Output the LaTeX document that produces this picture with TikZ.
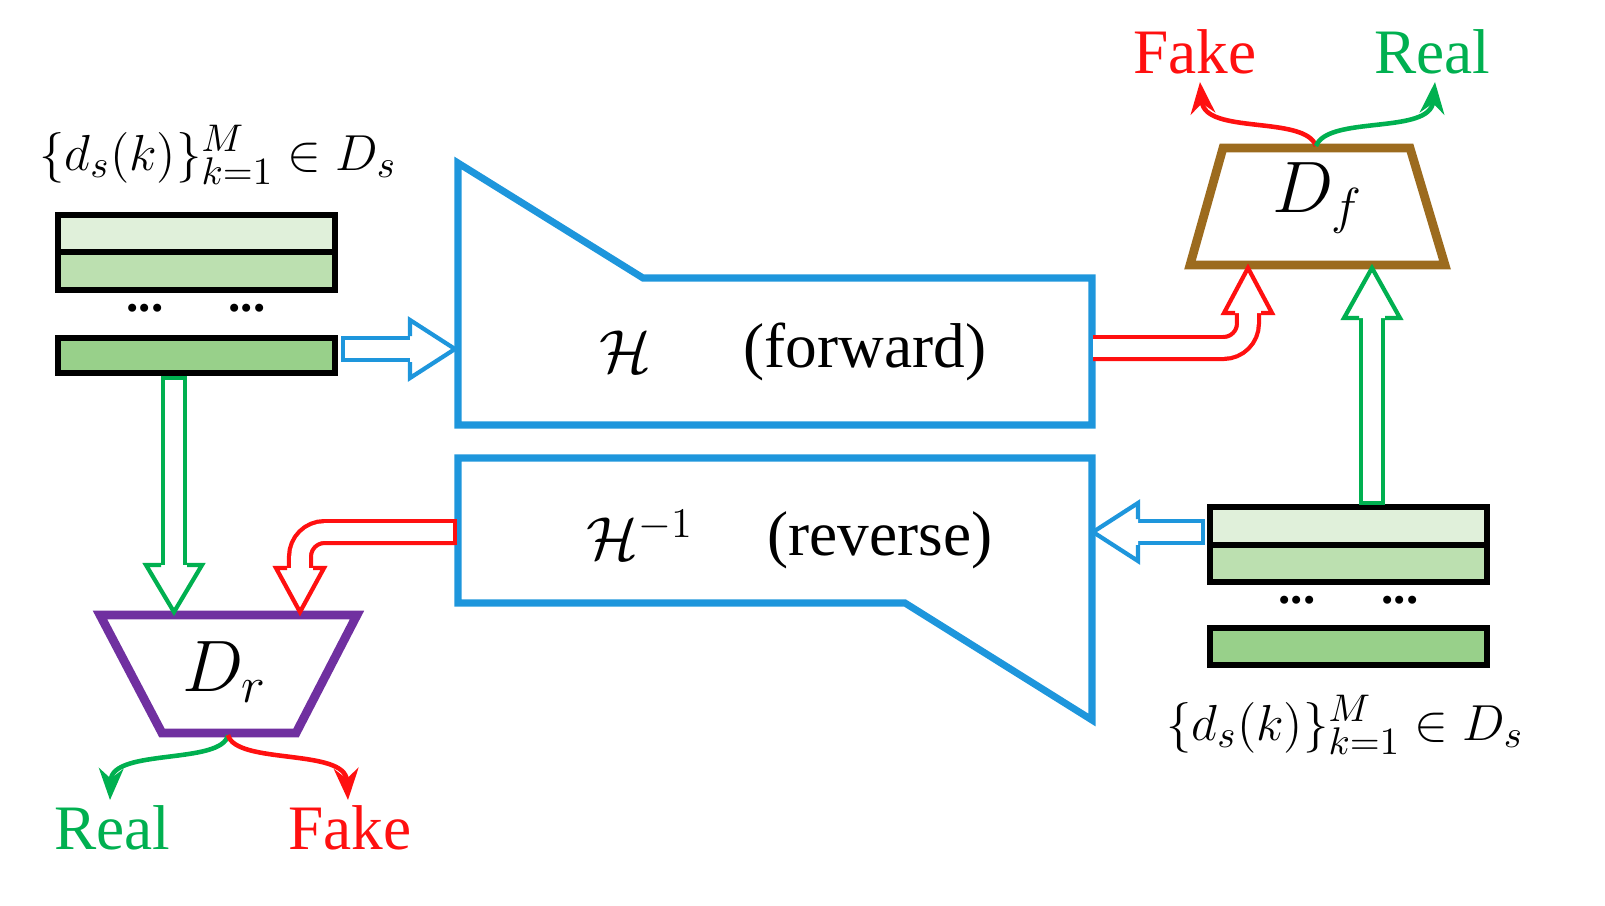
\documentclass[tikz,border=0pt]{standalone}
\usepackage{fontspec}
\setmainfont{Liberation Serif}
\usetikzlibrary{arrows.meta}
\definecolor{bl}{HTML}{1E96DC}
\definecolor{gr}{HTML}{00B050}
\definecolor{rd}{HTML}{FF1010}
\definecolor{br}{HTML}{9C6B1E}
\definecolor{pu}{HTML}{7030A0}
\definecolor{g1}{HTML}{E0F0DA}
\definecolor{g2}{HTML}{BCE0B0}
\definecolor{g3}{HTML}{98D08A}
\begin{document}
\begin{tikzpicture}[x=0.01cm,y=-0.01cm,
  hol/.style={line width=1.2pt,double=white,double distance=5pt},
  head/.style={line width=1.2pt,fill=white,line join=miter},
  bar/.style={draw=black,line width=1.5pt},
  net/.style={draw=bl,line width=2pt},
  thin/.style={line width=1.3pt,-{Stealth[length=9pt,width=7pt]}},
  big/.style={font=\fontsize{18}{20}\selectfont},
  lab/.style={font=\fontsize{15}{18}\selectfont},
  dots/.style={font=\fontsize{14}{14}\selectfont\bfseries},
  outtxt/.style={font=\fontsize{18}{20}\selectfont}]
\useasboundingbox (0,0) rectangle (1605,905);
% left bars
\node[lab] (lt) at (218,155) {$\{d_s(k)\}_{k=1}^{M}\in D_s$};
\path[bar,fill=g1] (58,215) rectangle (335,252);
\path[bar,fill=g2] (58,252) rectangle (335,290);
\path[bar,fill=g3] (58,338) rectangle (335,373);
\node[dots] (d1) at (145,308) {...};
\node[dots] (d2) at (247,308) {...};
% right bars
\path[bar,fill=g1] (1210,507) rectangle (1487,545);
\path[bar,fill=g2] (1210,545) rectangle (1487,582);
\path[bar,fill=g3] (1210,628) rectangle (1487,665);
\node[dots] (d3) at (1297,600) {...};
\node[dots] (d4) at (1400,600) {...};
\node[lab] (rt) at (1345,725) {$\{d_s(k)\}_{k=1}^{M}\in D_s$};
% networks
\draw[net,line join=miter] (458,163) -- (643,278) -- (1092,278) -- (1092,425) -- (458,425) -- cycle;
\node[big] (hf) at (625,352) {$\mathcal{H}$};
\node[big] (hft) at (865,352) {(forward)};
\draw[net,line join=miter] (458,458) -- (1092,458) -- (1092,720) -- (905,603) -- (458,603) -- cycle;
\node[big] (hr) at (640,535) {$\mathcal{H}^{-1}$};
\node[big] (hrt) at (880,540) {(reverse)};
% discriminators
\draw[br,line width=2.5pt,line join=miter] (1223,148) -- (1410,148) -- (1445,265) -- (1190,265) -- cycle;
\node[font=\fontsize{22}{24}\selectfont] (df) at (1318,198) {$D_f$};
\draw[pu,line width=2.5pt,line join=miter] (100,615) -- (357,615) -- (296,733) -- (162,733) -- cycle;
\node[font=\fontsize{22}{24}\selectfont] (dr) at (225,672) {$D_r$};
% blue forward
\draw[bl,hol] (343,349) -- (410,349);
\draw[bl,line width=1.2pt] (343,336) -- (343,362);
\draw[bl,head] (410,336) -- (410,320) -- (455,349) -- (410,378) -- (410,362);
% blue reverse
\draw[bl,hol] (1203,532) -- (1138,532);
\draw[bl,line width=1.2pt] (1203,519) -- (1203,545);
\draw[bl,head] (1138,519) -- (1138,503) -- (1093,532) -- (1138,561) -- (1138,545);
% green up
\draw[gr,hol] (1372,503) -- (1372,318);
\draw[gr,line width=1.2pt] (1359,503) -- (1385,503);
\draw[gr,head] (1359,318) -- (1344,318) -- (1372,268) -- (1400,318) -- (1385,318);
% green down
\draw[gr,hol] (174,378) -- (174,565);
\draw[gr,line width=1.2pt] (161,378) -- (187,378);
\draw[gr,head] (161,565) -- (146,565) -- (174,612) -- (202,565) -- (187,565);
% red forward
\draw[rd,hol,rounded corners=7pt] (1093,348) -| (1248,313);
\draw[rd,head] (1235,313) -- (1224,313) -- (1248,268) -- (1272,313) -- (1261,313);
% red reverse
\draw[rd,hol,rounded corners=7pt] (455,532) -| (300,568);
\draw[rd,line width=1.2pt] (455,519) -- (455,545);
\draw[rd,head] (287,568) -- (276,568) -- (300,612) -- (324,568) -- (313,568);
% outputs top
\node[outtxt,text=rd] (f1) at (1195,52) {Fake};
\node[outtxt,text=gr] (r1) at (1432,52) {Real};
\coordinate (ft) at (1316,146);
\draw[thin,rd] (ft) .. controls (1305,115) and (1205,135) .. (1200,82);
\draw[thin,gr] (ft) .. controls (1328,115) and (1430,135) .. (1435,82);
% outputs bottom
\node[outtxt,text=gr] (r2) at (112,828) {Real};
\node[outtxt,text=rd] (f2) at (350,828) {Fake};
\coordinate (fb) at (228,735);
\draw[thin,gr] (fb) .. controls (222,765) and (112,748) .. (110,800);
\draw[thin,rd] (fb) .. controls (236,765) and (345,748) .. (348,800);
\end{tikzpicture}
\end{document}
